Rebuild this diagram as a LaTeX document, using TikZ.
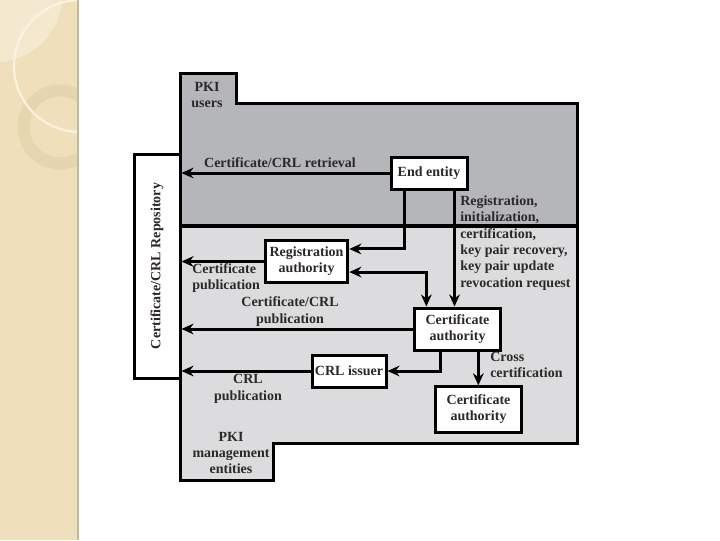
\documentclass[tikz,border=0pt]{standalone}
\usepackage{fontspec}
\setmainfont{Liberation Serif}
\usetikzlibrary{arrows.meta}
\definecolor{stripe}{RGB}{239,224,187}
\definecolor{stripeedge}{RGB}{200,184,140}
\definecolor{usergray}{RGB}{181,182,186}
\definecolor{mgmtgray}{RGB}{220,220,222}
\definecolor{ink}{RGB}{45,40,38}
\tikzset{
  box/.style={draw=black, line width=2.25pt, fill=white, text=ink, font=\bfseries\fontsize{10.5}{12}\selectfont, align=center, inner sep=1pt},
  lbl/.style={text=ink, font=\bfseries\fontsize{10.5}{12.3}\selectfont, inner sep=0pt},
  arr/.style={line width=2.25pt, -{Stealth[length=9pt,width=8pt]}},
  dbl/.style={line width=2.25pt, {Stealth[length=9pt,width=8pt]}-{Stealth[length=9pt,width=8pt]}}
}
\begin{document}
\begin{tikzpicture}[x=0.75pt,y=-0.75pt]
                \useasboundingbox (0,0) rectangle (720,540);
                \fill[white] (0,0) rectangle (720,540);

                \begin{scope}
                \clip (0,0) rectangle (78,540);
                \fill[stripe] (0,0) rectangle (78,540);
                \fill[white!30!stripe] (-5,-5) circle (68);
                \draw[stripeedge!50, line width=0.4pt] (-5,-5) circle (68);
                \draw[stripeedge!25!stripe, line width=9pt] (60,127) circle (36.5);
                \draw[white!60!stripe, line width=1.6pt] (80,66) circle (66);
                \end{scope}
                \draw[stripeedge, line width=1.2pt] (78,0) -- (78,540);

                \draw[fill=usergray, line width=2.25pt] (180,73) -- (236,73) -- (236,103) -- (577,103) -- (577,226) -- (180,226) -- cycle;
                \draw[fill=mgmtgray, line width=2.25pt] (180,226) -- (577,226) -- (577,443) -- (273,443) -- (273,480) -- (180,480) -- cycle;
                \draw[line width=3.2pt] (180,226) -- (577,226);

                \node[box, minimum width=34.5pt, minimum height=168pt] at (157,266) (repo) {\rotatebox{90}{Certificate/CRL Repository}};
                \node[box, minimum width=57pt, minimum height=24pt] at (429,173) (ee) {End entity};
                \node[box, minimum width=62pt, minimum height=32pt] at (306.5,261.5) (ra) {Registration\\authority};
                \node[box, minimum width=64pt, minimum height=31.5pt] at (457.5,329) (ca) {Certificate\\authority};
                \node[box, minimum width=55.5pt, minimum height=24pt] at (349,371) (crl) {CRL issuer};
                \node[box, minimum width=65pt, minimum height=34pt] at (478.5,409.5) (ca2) {Certificate\\authority};

                \draw[arr] (ee.west) -- (ee.west -| repo.east);
                \draw[arr] ([xshift=11.25pt]ee.south west) |- ([yshift=9.4pt]ra.east);
                \draw[arr] ([xshift=-10.5pt]ee.south east) -- ([xshift=-10.5pt]ee.south east |- ca.north);
                \draw[dbl] ([yshift=-7.9pt]ra.east) -| ([xshift=9.75pt]ca.north west);
                \draw[arr] (ra.west) -- (ra.west -| repo.east);
                \draw[arr] (ca.west) -- (ca.west -| repo.east);
                \draw[arr] ([xshift=20.25pt]ca.south west) |- (crl.east);
                \draw[arr] (crl.west) -- (crl.west -| repo.east);
                \draw[arr] ([xshift=48.75pt]ca.south west) -- ([xshift=48.75pt]ca.south west |- ca2.north);

                \node[lbl, align=center] at (207,95) (users) {PKI\\users};
                \node[lbl, align=center] at (231,453) (mgmt) {PKI\\management\\entities};
                \node[lbl] at (280,163) (retr) {Certificate/CRL retrieval};
                \node[lbl, align=left, anchor=west] at (192,278) (pub1) {Certificate\\publication};
                \node[lbl, align=center] at (290,311.5) (pub2) {Certificate/CRL\\publication};
                \node[lbl, align=center] at (248,389) (pub3) {CRL\\publication};
                \node[lbl, align=left, anchor=west] at (490,365) (cross) {Cross\\certification};
                \node[lbl, align=left, anchor=west] at (460,243) (reg) {Registration,\\initialization,\\certification,\\key pair recovery,\\key pair update\\revocation request};
            \end{tikzpicture}
\end{document}
